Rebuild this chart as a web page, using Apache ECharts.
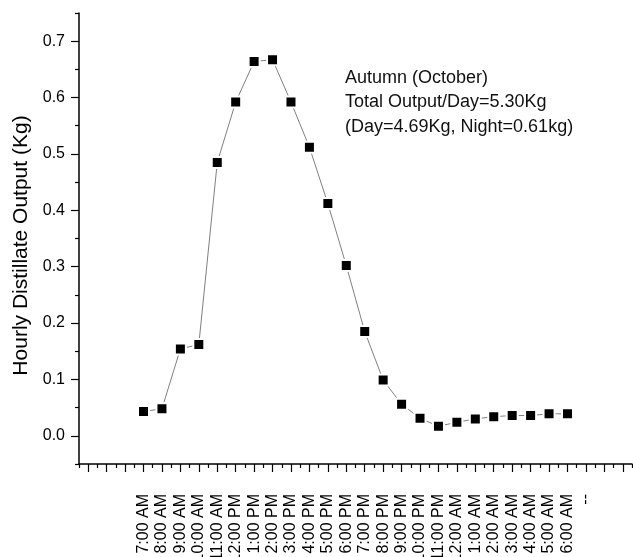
<!DOCTYPE html>
<html>
<head>
<meta charset="utf-8">
<script src="https://cdn.jsdelivr.net/npm/echarts@6/dist/echarts.min.js"></script>
<style>
  html, body { margin: 0; padding: 0; background: #fff; }
  #chart { width: 633px; height: 557px; }
</style>
</head>
<body>
<div id="chart"></div>
<script>
// Hourly readings, 7 AM through 6 AM next day
const hours = ['7:00 AM', '8:00 AM', '9:00 AM', '10:00 AM', '11:00 AM', '12:00 PM',
  '1:00 PM', '2:00 PM', '3:00 PM', '4:00 PM', '5:00 PM', '6:00 PM', '7:00 PM', '8:00 PM',
  '9:00 PM', '10:00 PM', '11:00 PM', '12:00 AM', '1:00 AM', '2:00 AM', '3:00 AM',
  '4:00 AM', '5:00 AM', '6:00 AM'];
const output = [0.043, 0.048, 0.154, 0.162, 0.485, 0.592, 0.664, 0.667, 0.592, 0.512,
  0.412, 0.302, 0.185, 0.099, 0.056, 0.031, 0.017, 0.024, 0.030, 0.034, 0.036, 0.036,
  0.039, 0.039];

// empty slots on either side of the day
const leadSlots = ['', '', ''];
const tailSlots = ['--', '', ''];

const yMajorTicks = [0, 0.1, 0.2, 0.3, 0.4, 0.5, 0.6, 0.7];
const yMinorTicks = [-0.05, 0.05, 0.15, 0.25, 0.35, 0.45, 0.55, 0.65, 0.75];

const noteLines = ['Autumn (October)', 'Total Output/Day=5.30Kg', '(Day=4.69Kg, Night=0.61kg)'];

const categories = leadSlots.concat(hours, tailSlots);
const seriesData = leadSlots.map(() => null).concat(output, tailSlots.map(() => null));

const FONT = 'Arial, "Liberation Sans", sans-serif';
const chart = echarts.init(document.getElementById('chart'), null, { renderer: 'canvas' });

chart.setOption({
  animation: false,
  backgroundColor: '#fff',
  grid: { left: 79, right: 1, top: 13, bottom: 93, containLabel: false, outerBoundsMode: 'none' },
  xAxis: [
    {
      type: 'category',
      data: categories,
      boundaryGap: true,
      axisLine: { show: true, onZero: false, lineStyle: { color: '#000', width: 1.5 } },
      axisTick: { show: true, alignWithLabel: true, interval: 0, length: 8, lineStyle: { color: '#000', width: 1.2 } },
      axisLabel: { interval: 0, rotate: 90, margin: 30, fontSize: 16, color: '#000', fontFamily: FONT },
      splitLine: { show: false }
    },
    {
      type: 'category',
      data: categories,
      position: 'bottom',
      boundaryGap: true,
      axisLine: { show: false, onZero: false },
      axisTick: { show: true, interval: 0, length: 4, lineStyle: { color: '#000', width: 1.2 } },
      axisLabel: { show: false },
      splitLine: { show: false }
    }
  ],
  yAxis: [
    {
      type: 'value',
      min: -0.05,
      max: 0.75,
      position: 'left',
      name: 'Hourly Distillate Output (Kg)',
      nameLocation: 'middle',
      nameGap: 46,
      nameTextStyle: { fontSize: 21, color: '#000', fontFamily: FONT, padding: [0, 14, 0, 0] },
      axisLine: { show: true, onZero: false, lineStyle: { color: '#000', width: 1.5 } },
      axisTick: { show: true, customValues: yMajorTicks, length: 8, lineStyle: { color: '#000', width: 1.2 } },
      axisLabel: {
        customValues: yMajorTicks,
        formatter: v => v.toFixed(1),
        margin: 14, fontSize: 16, color: '#000', fontFamily: FONT
      },
      splitLine: { show: false }
    },
    {
      type: 'value',
      min: -0.05,
      max: 0.75,
      position: 'left',
      offset: 0,
      axisLine: { show: false, onZero: false },
      axisTick: { show: true, customValues: yMinorTicks, length: 4, lineStyle: { color: '#000', width: 1.2 } },
      axisLabel: { show: false },
      splitLine: { show: false }
    }
  ],
  series: [
    {
      type: 'line',
      xAxisIndex: 0,
      yAxisIndex: 0,
      data: seriesData,
      symbol: 'rect',
      symbolSize: 11,
      showAllSymbol: true,
      lineStyle: { color: '#808080', width: 1 },
      itemStyle: { color: '#000', borderColor: '#fff', borderWidth: 2 },
      emphasis: { disabled: true }
    }
  ],
  graphic: noteLines.map((t, i) => ({
    type: 'text',
    left: 345,
    top: 69 + i * 24.5,
    style: { text: t, font: '18px ' + FONT, fill: '#111' }
  }))
});
</script>
</body>
</html>
